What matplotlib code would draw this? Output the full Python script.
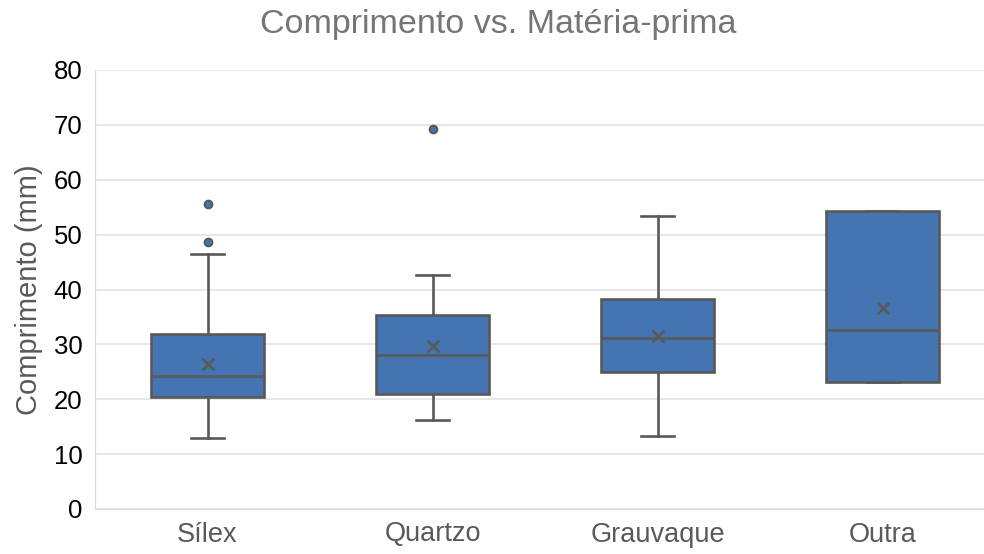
import matplotlib
matplotlib.use("Agg")
import matplotlib.pyplot as plt

categories = ["Sílex", "Quartzo", "Grauvaque", "Outra"]
q1 = [20.5, 20.9, 25.0, 23.2]
median = [24.2, 28.05, 31.2, 32.6]
q3 = [31.8, 35.3, 38.2, 54.3]
whisker_low = [12.9, 16.2, 13.35, 23.2]
whisker_high = [46.4, 42.7, 53.4, 54.3]
means = [26.5, 29.7, 31.5, 36.6]
outliers = [[48.6, 55.6], [69.2], [], []]
y_ticks = [0, 10, 20, 30, 40, 50, 60, 70, 80]

plt.rcParams['font.family'] = ['Liberation Sans', 'DejaVu Sans']

fig = plt.figure(figsize=(9.84, 5.54), dpi=100)
ax = fig.add_axes([95/984, 45/554, 900/984, 439/554])

stats = []
for i, c in enumerate(categories):
    stats.append(dict(label=c, q1=q1[i], med=median[i], q3=q3[i],
                      whislo=whisker_low[i], whishi=whisker_high[i],
                      mean=means[i], fliers=outliers[i]))

edge = '#595959'
fill = '#4475B2'
lw = 1.9
ax.bxp(stats, positions=range(len(categories)), widths=0.5, patch_artist=True,
       showmeans=True, capwidths=0.15,
       boxprops=dict(facecolor=fill, edgecolor=edge, linewidth=lw),
       medianprops=dict(color=edge, linewidth=lw),
       whiskerprops=dict(color=edge, linewidth=lw),
       capprops=dict(color=edge, linewidth=lw),
       meanprops=dict(marker='x', markeredgecolor=edge, markersize=8.5, markeredgewidth=1.9),
       flierprops=dict(marker='o', markerfacecolor=fill, markeredgecolor=edge,
                       markersize=5.5, markeredgewidth=1.5))

ax.set_xlim(-0.5, len(categories) - 0.5)
ax.set_ylim(0, 80)
ax.set_yticks(y_ticks)
ax.yaxis.grid(True, color='#e3e3e3', linewidth=1.2)
ax.set_axisbelow(True)
for s in ['top', 'right']:
    ax.spines[s].set_visible(False)
ax.spines['left'].set_color('#d9d9d9')
ax.spines['bottom'].set_color('#d9d9d9')
ax.tick_params(axis='both', length=0)
ax.tick_params(axis='y', labelsize=18.5, labelcolor='black', pad=9)
ax.tick_params(axis='x', labelsize=19.5, labelcolor='#595959', pad=9)
ax.set_ylabel("Comprimento (mm)", fontsize=21, color='#595959', labelpad=8)
fig.text(498/984, 1 - 25/554, "Comprimento vs. Matéria-prima", fontsize=24.5,
         color='#757575', ha='center', va='center')

fig.savefig("out.png", dpi=100)
